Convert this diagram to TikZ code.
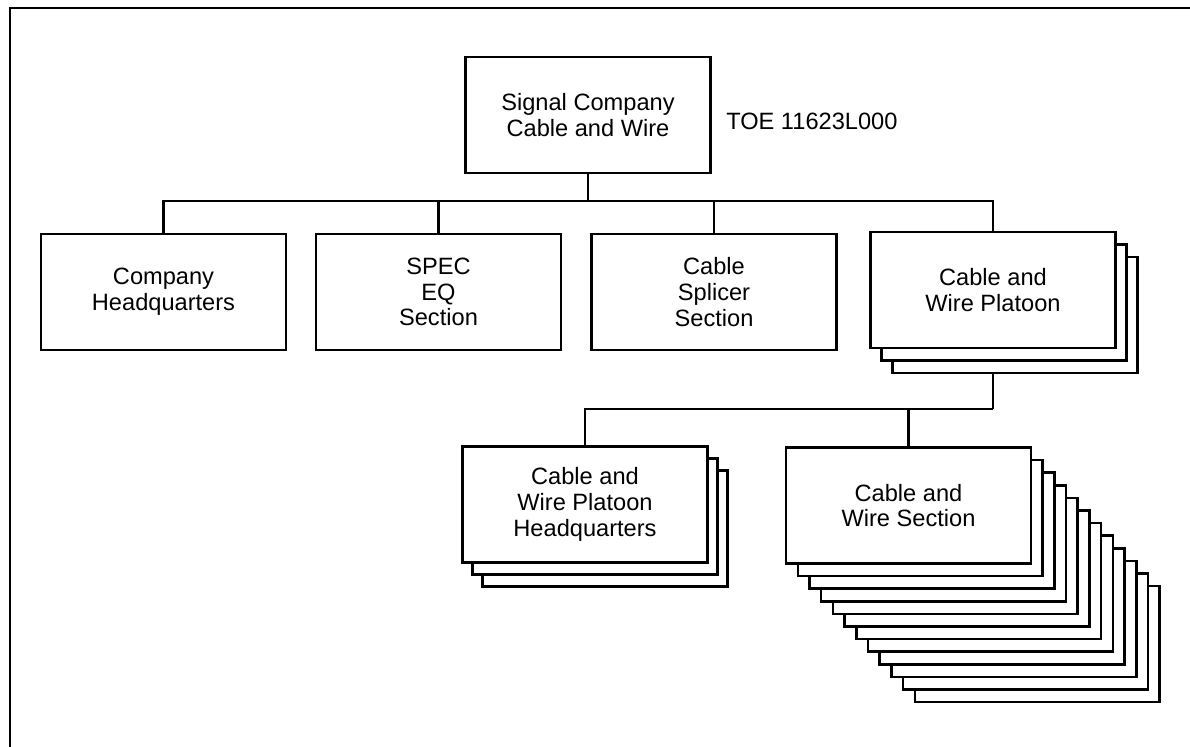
\documentclass[tikz,border=0pt]{standalone}
\usepackage{fontspec}
\setmainfont{Liberation Sans}
\begin{document}
\begin{tikzpicture}[x=0.025cm, y=-0.025cm,
  unit/.style={draw, line width=1.8pt, fill=white, minimum width=6.12cm,
    minimum height=2.9cm, align=center, font=\fontsize{16.8}{18.3}\selectfont},
  link/.style={line width=1.8pt}]
  \useasboundingbox (0,0) rectangle (1190,747);

  % page frame (top and left edges only)
  \draw[line width=2pt] (10,747) -- (10,8) -- (1190,8);

  % company
  \node[unit] (company) at (588,115) {Signal Company\\Cable and Wire};
  \node[anchor=west, inner sep=0pt, font=\fontsize{16.8}{18.3}\selectfont] (toe) at (726,121.5) {TOE 11623L000};

  % second level
  \node[unit] (cohq)    at (163.5,292) {Company\\Headquarters};
  \node[unit] (spec)    at (438.5,292) {SPEC\\EQ\\Section};
  \node[unit] (splicer) at (714,292)   {Cable\\Splicer\\Section};
  \foreach \i in {2,1}
    \node[unit] (platoon\i) at ({993+11*\i},{290+12.5*\i}) {};
  \node[unit] (platoon) at (993,290) {Cable and\\Wire Platoon};

  % third level
  \foreach \i in {2,1}
    \node[unit] (plthq\i) at ({585+10*\i},{504.5+12*\i}) {};
  \node[unit] (plthq) at (585,504.5) {Cable and\\Wire Platoon\\Headquarters};
  \foreach \i in {11,...,1}
    \node[unit] (section\i) at ({908.5+11.7*\i},{505.5+12.6*\i}) {};
  \node[unit] (section) at (908.5,505.5) {Cable and\\Wire Section};

  % connectors
  \coordinate (bus1) at (588,201);
  \draw[link] (company.south) -- (bus1);
  \foreach \n in {cohq,spec,splicer,platoon}
    \draw[link] (\n.north) |- (bus1);

  \coordinate (bus2) at (993,409);
  \draw[link] (platoon.south |- platoon2.south) -- (bus2);
  \draw[link] (plthq.north) |- (bus2);
  \draw[link] (section.north) |- (bus2);
\end{tikzpicture}
\end{document}
